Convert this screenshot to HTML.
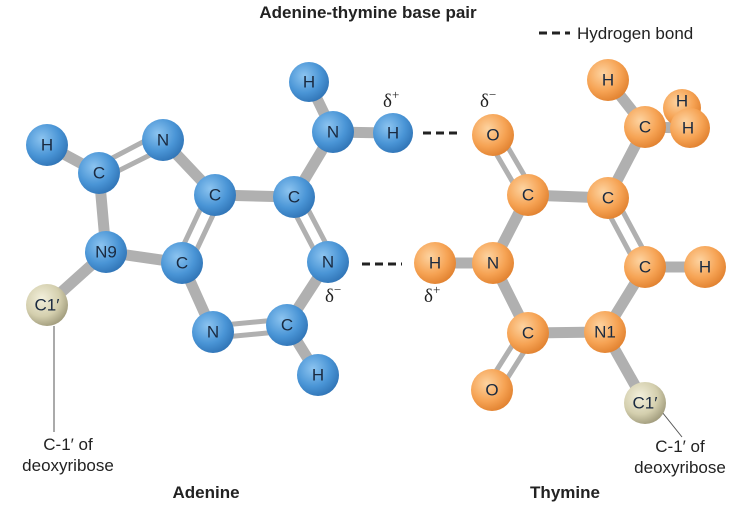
<!DOCTYPE html>
<html><head><meta charset="utf-8"><style>
body{margin:0;background:#fff;}
svg{display:block;font-family:"Liberation Sans",sans-serif;}
</style></head><body>
<svg width="736" height="508" viewBox="0 0 736 508" xmlns="http://www.w3.org/2000/svg">
<defs>
<radialGradient id="b" cx="0.38" cy="0.35" r="0.7"><stop offset="0" stop-color="#8cc4f0"/><stop offset="0.6" stop-color="#4a95d6"/><stop offset="1" stop-color="#2f73b5"/></radialGradient>
<radialGradient id="o" cx="0.38" cy="0.35" r="0.7"><stop offset="0" stop-color="#fdd3a0"/><stop offset="0.6" stop-color="#f6a354"/><stop offset="1" stop-color="#e0802e"/></radialGradient>
<radialGradient id="c" cx="0.38" cy="0.35" r="0.7"><stop offset="0" stop-color="#f3f0dc"/><stop offset="0.6" stop-color="#d4cfae"/><stop offset="1" stop-color="#9e997a"/></radialGradient>
</defs>
<g stroke="#b0b0b0" stroke-linecap="round">
<g stroke-width="11">
<line x1="47" y1="145" x2="99" y2="173"/>
<line x1="99" y1="173" x2="106" y2="252"/>
<line x1="163" y1="140" x2="215" y2="195"/>
<line x1="215" y1="195" x2="294" y2="197"/>
<line x1="294" y1="197" x2="333" y2="132"/>
<line x1="333" y1="132" x2="309" y2="82"/>
<line x1="333" y1="132" x2="393" y2="133"/>
<line x1="328" y1="262" x2="287" y2="325"/>
<line x1="287" y1="325" x2="318" y2="375"/>
<line x1="213" y1="332" x2="182" y2="263"/>
<line x1="182" y1="263" x2="106" y2="252"/>
<line x1="106" y1="252" x2="47" y2="305"/>
<line x1="528" y1="195" x2="608" y2="198"/>
<line x1="608" y1="198" x2="645" y2="127"/>
<line x1="645" y1="127" x2="608" y2="80"/>
<line x1="645" y1="127" x2="688" y2="128"/>
<line x1="645" y1="267" x2="705" y2="267"/>
<line x1="645" y1="267" x2="605" y2="332"/>
<line x1="605" y1="332" x2="528" y2="333"/>
<line x1="605" y1="332" x2="645" y2="403"/>
<line x1="528" y1="333" x2="493" y2="263"/>
<line x1="493" y1="263" x2="435" y2="263"/>
<line x1="493" y1="263" x2="528" y2="195"/>
</g>
<g stroke-width="5">
<line x1="97" y1="166" x2="160" y2="133"/><line x1="104" y1="178" x2="166" y2="147"/>
<line x1="208" y1="193" x2="176" y2="261"/><line x1="221" y1="198" x2="189" y2="266"/>
<line x1="288" y1="200" x2="322" y2="265"/><line x1="300" y1="194" x2="334" y2="259"/>
<line x1="213" y1="326" x2="287" y2="319"/><line x1="214" y1="338" x2="288" y2="331"/>
<line x1="487" y1="138" x2="522" y2="198"/><line x1="499" y1="132" x2="534" y2="192"/>
<line x1="602" y1="201" x2="639" y2="270"/><line x1="614" y1="195" x2="651" y2="264"/>
<line x1="522" y1="330" x2="486" y2="387"/><line x1="534" y1="336" x2="498" y2="393"/>
</g>
</g>
<g stroke="#222" stroke-width="3" stroke-dasharray="8,5">
<line x1="423" y1="133" x2="462" y2="133"/>
<line x1="362" y1="264" x2="402" y2="264"/>
<line x1="539" y1="33" x2="570" y2="33"/>
</g>
<g stroke="#555" stroke-width="1" fill="none">
<line x1="54" y1="326" x2="54" y2="432"/>
<line x1="662" y1="412" x2="682" y2="437"/>
</g>
<g font-size="17" fill="#1a2a40" text-anchor="middle" dominant-baseline="central">
<circle cx="309" cy="82" r="20" fill="url(#b)"/><text x="309" y="82">H</text>
<circle cx="333" cy="132" r="21" fill="url(#b)"/><text x="333" y="132">N</text>
<circle cx="393" cy="133" r="20" fill="url(#b)"/><text x="393" y="133">H</text>
<circle cx="47" cy="145" r="21" fill="url(#b)"/><text x="47" y="145">H</text>
<circle cx="99" cy="173" r="21" fill="url(#b)"/><text x="99" y="173">C</text>
<circle cx="163" cy="140" r="21" fill="url(#b)"/><text x="163" y="140">N</text>
<circle cx="215" cy="195" r="21" fill="url(#b)"/><text x="215" y="195">C</text>
<circle cx="294" cy="197" r="21" fill="url(#b)"/><text x="294" y="197">C</text>
<circle cx="106" cy="252" r="21" fill="url(#b)"/><text x="106" y="252">N9</text>
<circle cx="182" cy="263" r="21" fill="url(#b)"/><text x="182" y="263">C</text>
<circle cx="328" cy="262" r="21" fill="url(#b)"/><text x="328" y="262">N</text>
<circle cx="213" cy="332" r="21" fill="url(#b)"/><text x="213" y="332">N</text>
<circle cx="287" cy="325" r="21" fill="url(#b)"/><text x="287" y="325">C</text>
<circle cx="318" cy="375" r="21" fill="url(#b)"/><text x="318" y="375">H</text>
<circle cx="47" cy="305" r="21" fill="url(#c)"/><text x="47" y="305">C1′</text>

<circle cx="608" cy="80" r="21" fill="url(#o)"/><text x="608" y="80">H</text>
<circle cx="645" cy="127" r="21" fill="url(#o)"/><text x="645" y="127">C</text>
<circle cx="682" cy="108" r="19" fill="url(#o)"/><text x="682" y="101">H</text>
<circle cx="690" cy="128" r="20" fill="url(#o)"/><text x="688" y="128">H</text>
<circle cx="493" cy="135" r="21" fill="url(#o)"/><text x="493" y="135">O</text>
<circle cx="528" cy="195" r="21" fill="url(#o)"/><text x="528" y="195">C</text>
<circle cx="608" cy="198" r="21" fill="url(#o)"/><text x="608" y="198">C</text>
<circle cx="435" cy="263" r="21" fill="url(#o)"/><text x="435" y="263">H</text>
<circle cx="493" cy="263" r="21" fill="url(#o)"/><text x="493" y="263">N</text>
<circle cx="645" cy="267" r="21" fill="url(#o)"/><text x="645" y="267">C</text>
<circle cx="705" cy="267" r="21" fill="url(#o)"/><text x="705" y="267">H</text>
<circle cx="528" cy="333" r="21" fill="url(#o)"/><text x="528" y="333">C</text>
<circle cx="605" cy="332" r="21" fill="url(#o)"/><text x="605" y="332">N1</text>
<circle cx="492" cy="390" r="21" fill="url(#o)"/><text x="492" y="390">O</text>
<circle cx="645" cy="403" r="21" fill="url(#c)"/><text x="645" y="403">C1′</text>
</g>
<g font-size="19" fill="#222" font-family="Liberation Serif,serif">
<text x="383" y="107">δ<tspan font-size="13" dy="-8">+</tspan></text>
<text x="480" y="107">δ<tspan font-size="13" dy="-8">−</tspan></text>
<text x="325" y="302">δ<tspan font-size="13" dy="-8">−</tspan></text>
<text x="424" y="302">δ<tspan font-size="13" dy="-8">+</tspan></text>
</g>
<g font-size="17" fill="#222">
<text x="368" y="18" text-anchor="middle" font-weight="bold">Adenine-thymine base pair</text>
<text x="577" y="39">Hydrogen bond</text>
<text x="68" y="450" text-anchor="middle">C-1′ of</text>
<text x="68" y="471" text-anchor="middle">deoxyribose</text>
<text x="680" y="452" text-anchor="middle">C-1′ of</text>
<text x="680" y="473" text-anchor="middle">deoxyribose</text>
<text x="206" y="498" text-anchor="middle" font-weight="bold">Adenine</text>
<text x="565" y="498" text-anchor="middle" font-weight="bold">Thymine</text>
</g>
</svg>
</body></html>
